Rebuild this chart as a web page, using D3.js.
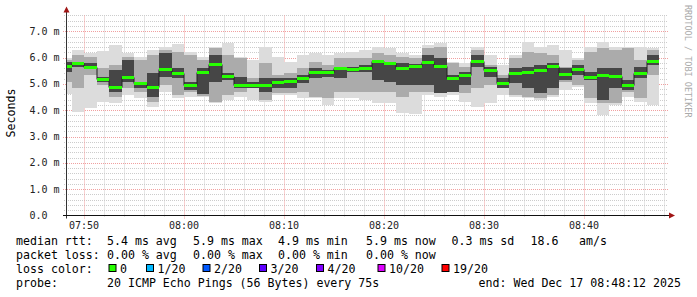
<!DOCTYPE html>
<html>
<head>
<meta charset="utf-8">
<script src="https://cdn.jsdelivr.net/npm/d3@7/dist/d3.min.js"></script>
<style>
  body { margin: 0; background: #fff; }
  svg { display: block; font-family: "DejaVu Sans Mono", monospace; }
</style>
</head>
<body>
<svg id="chart" width="697" height="297"></svg>
<script>
// smokeping detail graph, one value per 75s step (value is for the step ending at that time)
const stepSeconds = 75;
const firstStepEnd = new Date(2025, 11, 17, 7, 48, 45);
const graphStart = new Date(2025, 11, 17, 7, 48, 12);
const graphEnd = new Date(2025, 11, 17, 8, 48, 12);

// median rtt, ms
const medians = [5.68, 5.79, 5.65, 5.20, 4.89, 5.27, 5.03, 4.89, 5.56, 5.42, 4.96, 5.45,
  5.75, 5.29, 4.95, 4.95, 4.96, 5.08, 5.12, 5.22, 5.46, 5.46, 5.61, 5.58,
  5.59, 5.89, 5.81, 5.61, 5.69, 5.83, 5.68, 5.23, 5.33, 5.88, 5.53, 5.05,
  5.43, 5.47, 5.54, 5.67, 5.39, 5.58, 5.25, 5.33, 5.30, 4.95, 5.43, 5.89];

// smoke: outer (lightest) ping range
const pingMax = [6.00, 6.29, 6.17, 6.26, 6.48, 6.17, 6.04, 6.29, 6.42, 6.51, 6.23, 6.04,
  6.42, 6.55, 6.04, 5.91, 6.42, 6.04, 5.85, 6.10, 6.17, 6.10, 6.17, 6.23,
  6.29, 6.42, 6.36, 6.17, 6.10, 6.48, 6.55, 5.85, 5.79, 6.42, 6.10, 5.72,
  6.08, 6.58, 6.42, 6.46, 6.29, 5.98, 6.42, 6.61, 6.42, 6.42, 6.42, 6.36];
const pingMin = [4.60, 3.92, 4.10, 4.33, 4.27, 4.58, 4.46, 4.14, 4.71, 4.46, 4.52, 4.52,
  4.27, 4.39, 4.52, 4.39, 4.33, 4.58, 4.58, 4.46, 4.46, 4.20, 4.46, 4.46,
  4.39, 4.27, 4.27, 3.88, 3.85, 4.58, 4.52, 4.58, 4.33, 4.14, 4.27, 4.58,
  4.52, 4.46, 4.39, 4.52, 4.77, 4.90, 4.27, 3.82, 4.20, 4.52, 4.33, 4.20];

// smoke: middle band
const midHi = [5.91, 6.10, 6.04, 5.60, 5.72, 6.04, 5.91, 6.10, 6.29, 6.23, 6.10, 5.91,
  6.36, 6.10, 5.98, 5.22, 5.79, 5.34, 5.40, 5.60, 5.85, 5.72, 5.98, 5.98,
  5.98, 6.17, 6.10, 6.04, 5.98, 6.36, 6.42, 5.79, 5.66, 6.29, 5.72, 5.34,
  5.98, 6.23, 6.17, 6.10, 5.66, 5.91, 6.23, 6.36, 6.29, 6.36, 5.91, 6.29];
const midLo = [5.09, 4.84, 5.34, 4.96, 4.52, 4.84, 4.71, 4.33, 4.96, 4.58, 4.71, 4.55,
  4.33, 4.58, 4.71, 4.84, 4.39, 4.65, 4.65, 4.71, 4.52, 4.46, 4.71, 4.71,
  4.71, 4.71, 4.71, 4.52, 4.71, 4.71, 4.65, 4.71, 4.65, 4.84, 4.96, 4.84,
  4.58, 4.52, 4.46, 4.58, 5.09, 4.96, 4.46, 4.27, 4.27, 4.71, 4.46, 5.34];

// smoke: dark core
const coreHi = [5.85, 5.85, 5.79, 5.28, 5.53, 5.91, 5.09, 5.41, 6.17, 5.60, 5.09, 5.60,
  6.10, 5.41, 5.28, 5.09, 5.22, 5.22, 5.22, 5.34, 5.60, 5.53, 5.66, 5.66,
  5.72, 5.91, 5.85, 5.79, 5.75, 6.10, 5.98, 5.34, 5.47, 6.10, 5.66, 5.22,
  5.60, 5.66, 5.72, 5.79, 5.60, 5.72, 5.47, 5.60, 5.60, 5.15, 5.66, 6.10];
const coreLo = [5.47, 5.66, 5.60, 5.09, 4.71, 5.09, 4.84, 4.52, 5.28, 5.22, 4.77, 4.60,
  5.09, 5.15, 4.84, 4.84, 4.71, 4.84, 4.84, 5.03, 5.22, 5.28, 5.22, 5.47,
  5.47, 5.15, 5.09, 4.96, 4.96, 4.96, 4.65, 4.71, 4.96, 5.66, 5.28, 4.84,
  5.03, 4.84, 4.65, 4.84, 5.15, 5.34, 5.15, 4.39, 4.84, 4.77, 5.22, 5.72];

const yTickValues = [0, 1, 2, 3, 4, 5, 6, 7];
const lossLabels = ["0", "1/20", "2/20", "3/20", "4/20", "10/20", "19/20"];
const lossColors = ["#26ff00", "#00b8ff", "#0059ff", "#5e00ff", "#7e00ff", "#dd00ff", "#ff0000"];

const rttStats = ["5.4 ms avg", "5.9 ms max", "4.9 ms min", "5.9 ms now", "0.3 ms sd", "18.6", "am/s"];
const lossStats = ["0.00 % avg", "0.00 % max", "0.00 % min", "0.00 % now"];
const probeText = "20 ICMP Echo Pings (56 Bytes) every 75s";
const endText = "end: Wed Dec 17 08:48:12 2025";

const svg = d3.select("#chart");
const plotLeft = 66, plotRight = 666, plotTop = 15.5, plotBottom = 215.5;

const xScale = d3.scaleTime().domain([graphStart, graphEnd]).range([plotLeft, plotRight]);
const yScale = d3.scaleLinear().domain([0, 7.6]).range([plotBottom, plotTop]);

const steps = medians.map((m, i) => {
  let end = new Date(firstStepEnd.getTime() + i * stepSeconds * 1000);
  let start = new Date(end.getTime() - stepSeconds * 1000);
  return { start: start, end: end, median: m,
    bands: [[pingMin[i], pingMax[i]], [midLo[i], midHi[i]], [coreLo[i], coreHi[i]]] };
});

let px = (d) => Math.max(plotLeft, Math.round(xScale(d)));

// grid
const grid = svg.append("g");
let minorY = d3.range(0, 7.61, 0.2).filter(v => Math.abs(v - Math.round(v)) > 0.01);
grid.selectAll(".hminor").data(minorY).enter().append("line")
  .attr("x1", plotLeft - 2).attr("x2", plotRight + 2)
  .attr("y1", d => Math.round(yScale(d)) + 0.5).attr("y2", d => Math.round(yScale(d)) + 0.5)
  .attr("stroke", "#cccccc").attr("stroke-dasharray", "1,1");
let minorX = d3.timeMinute.every(2).range(graphStart, graphEnd).filter(d => d.getMinutes() % 10 !== 0);
grid.selectAll(".vminor").data(minorX).enter().append("line")
  .attr("x1", d => Math.round(xScale(d)) + 0.5).attr("x2", d => Math.round(xScale(d)) + 0.5)
  .attr("y1", plotTop).attr("y2", plotBottom + 2)
  .attr("stroke", "#cccccc").attr("stroke-dasharray", "1,1");
grid.selectAll(".hmajor").data(yTickValues.slice(1)).enter().append("line")
  .attr("x1", plotLeft - 3).attr("x2", plotRight + 2)
  .attr("y1", d => Math.round(yScale(d)) + 0.5).attr("y2", d => Math.round(yScale(d)) + 0.5)
  .attr("stroke", "#f0a0a0").attr("stroke-dasharray", "1,1");
let majorX = d3.timeMinute.every(10).range(graphStart, graphEnd);
grid.selectAll(".vmajor").data(majorX).enter().append("line")
  .attr("x1", d => Math.round(xScale(d)) + 0.5).attr("x2", d => Math.round(xScale(d)) + 0.5)
  .attr("y1", plotTop).attr("y2", plotBottom + 3)
  .attr("stroke", "#f0a0a0").attr("stroke-dasharray", "1,1");

// smoke
const smokeColors = ["#dcdcdc", "#ababab", "#464646"];
const smoke = svg.append("g").attr("shape-rendering", "crispEdges");
[0, 1, 2].forEach(b => {
  smoke.selectAll(".band" + b).data(steps).enter().append("rect")
    .attr("x", d => px(d.start))
    .attr("width", d => px(d.end) - px(d.start))
    .attr("y", d => Math.round(yScale(d.bands[b][1])))
    .attr("height", d => Math.round(yScale(d.bands[b][0])) - Math.round(yScale(d.bands[b][1])))
    .attr("fill", smokeColors[b]);
});

// median step line
let pts = [];
steps.forEach(d => {
  let y = Math.round(yScale(d.median)) + 0.5;
  pts.push([px(d.start), y], [px(d.end), y]);
});
svg.append("path").attr("d", d3.line()(pts))
  .attr("fill", "none").attr("stroke", "#202020").attr("stroke-width", 1);

// loss coloured median (all 0 loss)
svg.append("g").attr("shape-rendering", "crispEdges")
  .selectAll("rect").data(steps).enter().append("rect")
  .attr("x", d => px(d.start))
  .attr("width", d => px(d.end) - px(d.start))
  .attr("y", d => Math.round(yScale(d.median)) - 1)
  .attr("height", 3)
  .attr("fill", lossColors[0]);

// axes
svg.append("line").attr("x1", plotLeft + 0.5).attr("x2", plotLeft + 0.5).attr("y1", plotBottom + 3).attr("y2", 10)
  .attr("stroke", "#333");
svg.append("line").attr("x1", plotLeft - 3).attr("x2", plotRight + 4).attr("y1", plotBottom).attr("y2", plotBottom)
  .attr("stroke", "#111");
svg.append("path").attr("d", `M${plotLeft - 2.5},${plotTop - 3} L${plotLeft + 0.5},${plotTop - 9} L${plotLeft + 3.5},${plotTop - 3} Z`)
  .attr("fill", "#a01515");
svg.append("path").attr("d", `M${plotRight + 3},${plotBottom - 3} L${plotRight + 9},${plotBottom} L${plotRight + 3},${plotBottom + 3} Z`)
  .attr("fill", "#a01515");

svg.append("g").selectAll("text").data(yTickValues).enter().append("text")
  .attr("x", 29.5).attr("y", d => yScale(d) + 3.5)
  .attr("font-size", 10).attr("fill", "#222")
  .text(d => d === 0 ? "0.0" : d.toFixed(1) + " m");

svg.append("g").selectAll("text").data(majorX).enter().append("text")
  .attr("x", d => xScale(d)).attr("y", 229)
  .attr("text-anchor", "middle").attr("font-size", 10).attr("fill", "#222")
  .text(d3.timeFormat("%H:%M"));

svg.append("text").attr("transform", "translate(15,113) rotate(-90)")
  .attr("text-anchor", "middle").attr("font-size", 11.6).text("Seconds");

svg.append("text").attr("transform", "translate(685,5) rotate(90)")
  .attr("font-size", 8.5).attr("fill", "#aaaaaa").text("RRDTOOL / TOBI OETIKER");

// legend
const lg = svg.append("g").attr("font-size", 11.6).attr("fill", "#000");
const rttX = [107, 193, 278, 366, 451.5, 530.5, 579];
lg.append("text").attr("x", 16).attr("y", 245).text("median rtt:");
lg.selectAll(".rtt").data(rttStats).enter().append("text")
  .attr("x", (d, i) => rttX[i]).attr("y", 245).text(d => d);
lg.append("text").attr("x", 16).attr("y", 259).text("packet loss:");
lg.selectAll(".loss").data(lossStats).enter().append("text")
  .attr("x", (d, i) => rttX[i]).attr("y", 259).text(d => d);
lg.append("text").attr("x", 16).attr("y", 273).text("loss color:");
const boxX = [108.5, 146, 202.5, 259, 316, 377.5, 441.5];
lossLabels.forEach((l, i) => {
  lg.append("rect").attr("x", boxX[i] + 0.5).attr("y", 264.5).attr("width", 7).attr("height", 7)
    .attr("fill", lossColors[i]).attr("stroke", "#000");
  lg.append("text").attr("x", boxX[i] + 11.5).attr("y", 273).text(l);
});
lg.append("text").attr("x", 16).attr("y", 287).text("probe:");
lg.append("text").attr("x", 107).attr("y", 287).text(probeText);
lg.append("text").attr("x", 681).attr("y", 287).attr("text-anchor", "end").text(endText);
</script>
</body>
</html>
